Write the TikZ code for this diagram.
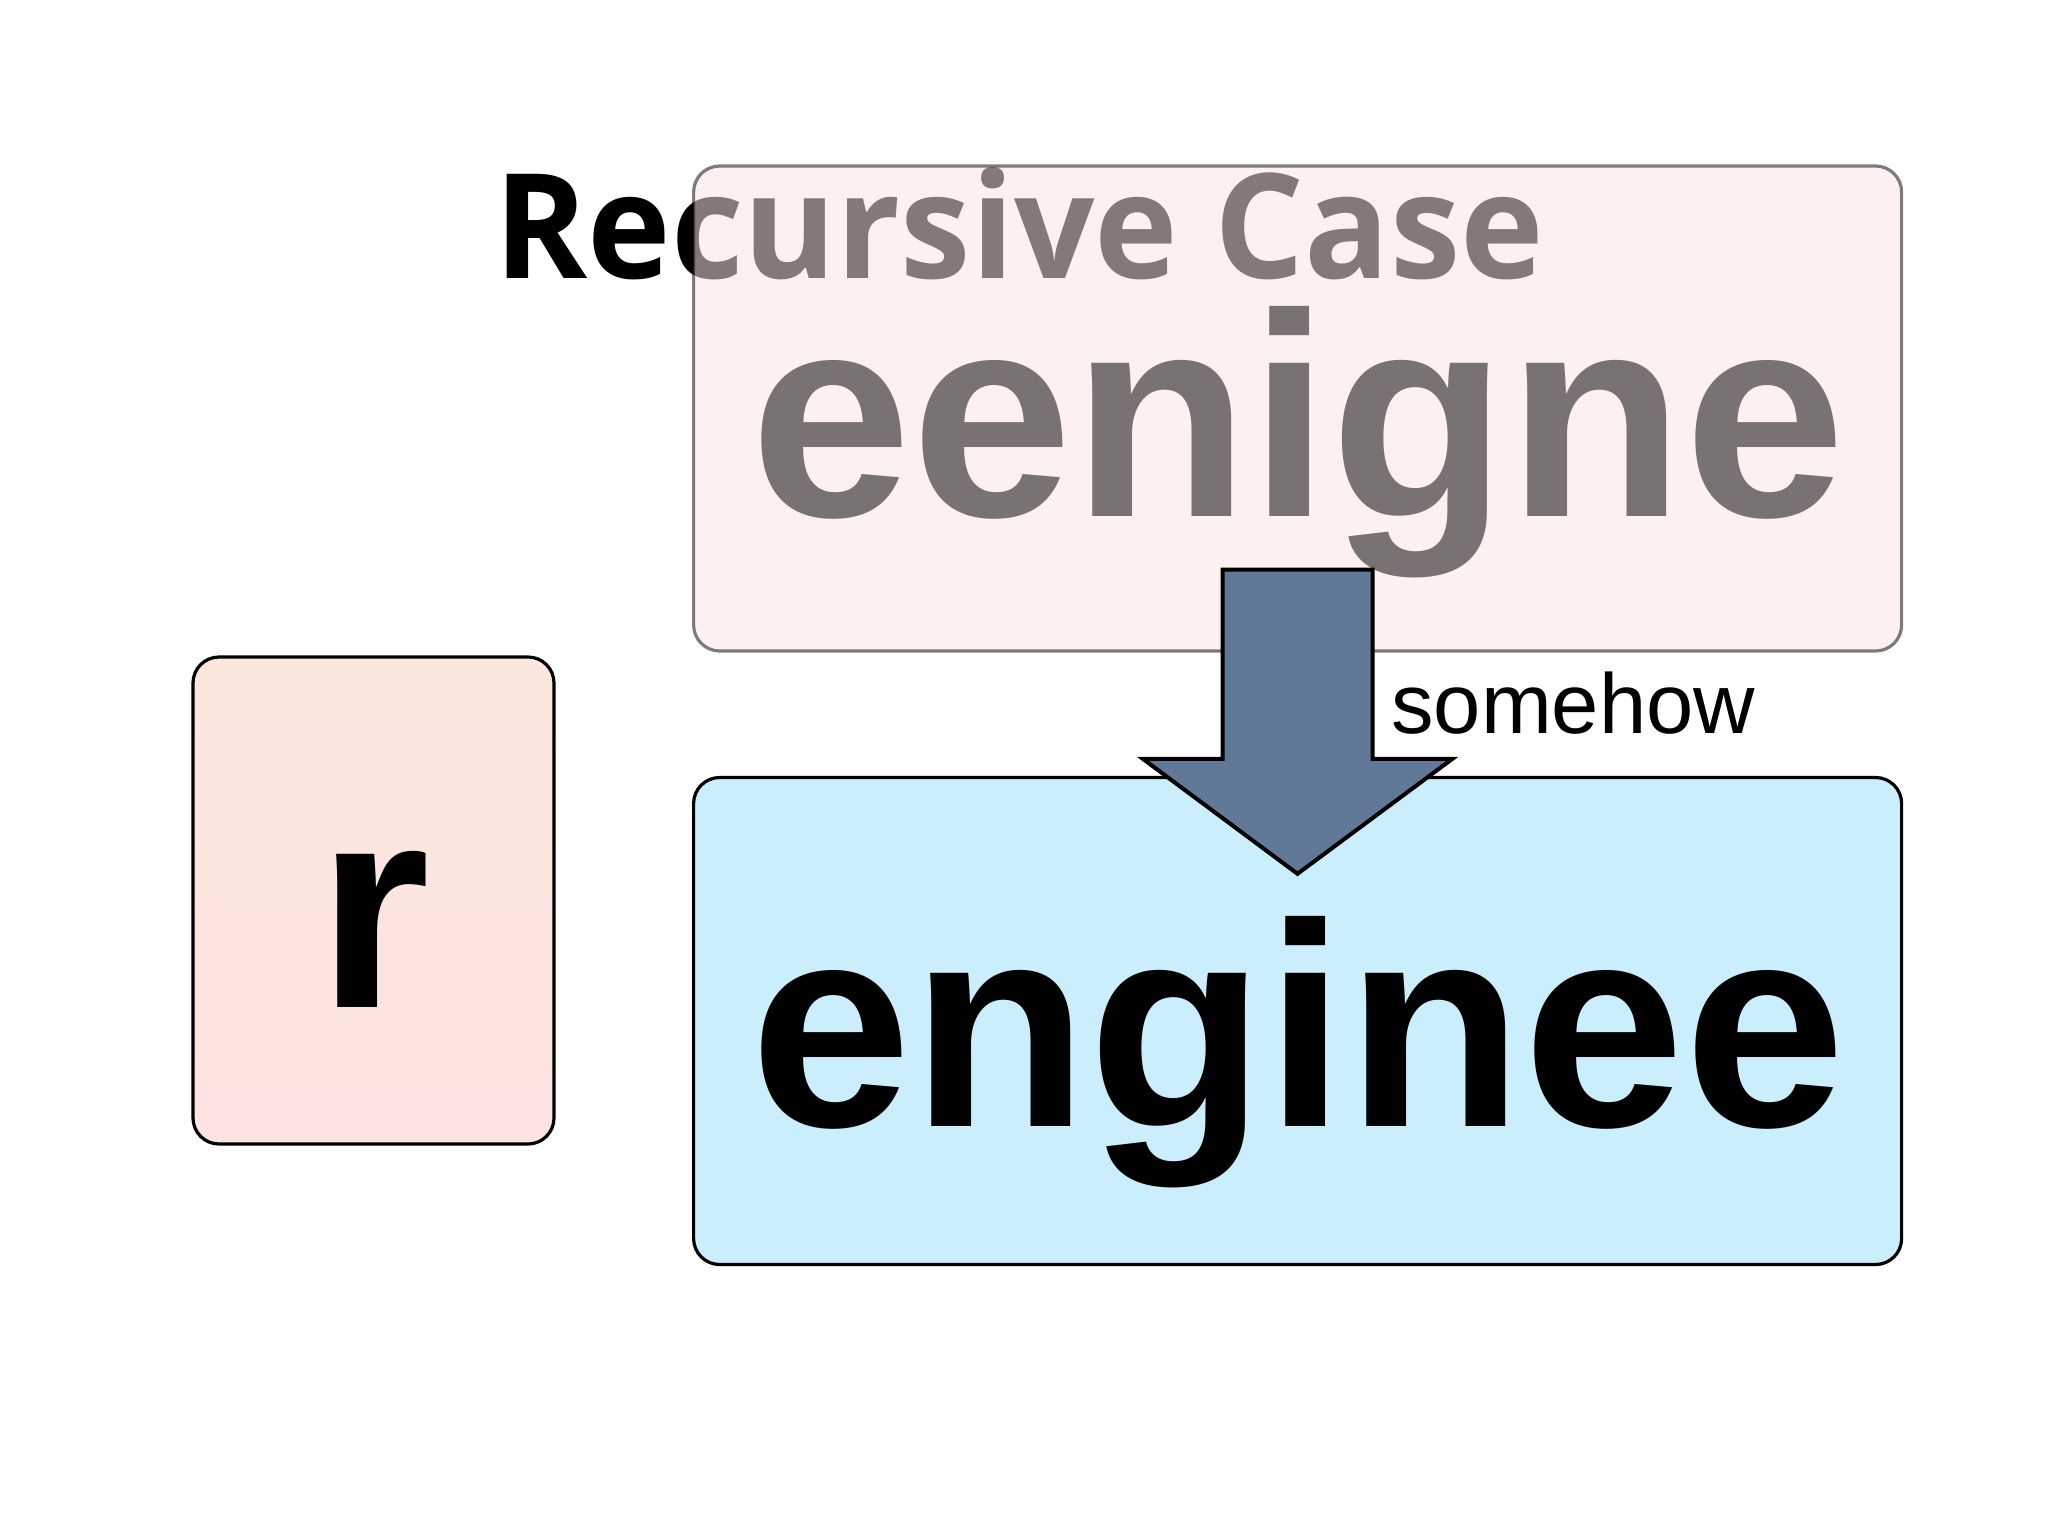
\documentclass[tikz,border=0pt]{standalone}
\usepackage{fontspec}
\setmainfont{Liberation Sans}
\newfontfamily\titlefont{Open Sans}
\definecolor{toppink}{RGB}{251,230,228}
\definecolor{rpinktop}{RGB}{250,231,222}
\definecolor{rpinkbot}{RGB}{253,228,226}
\definecolor{lightblue}{RGB}{202,238,252}
\definecolor{arrowblue}{RGB}{97,121,151}
\tikzset{
  card/.style={rounded corners=13pt, inner sep=0pt, outer sep=0pt, line width=1.6pt, draw=black},
  bigword/.style={anchor=base, inner sep=0pt, font=\bfseries\fontsize{145}{150}\selectfont},
  blockarrow/.style={fill=arrowblue, draw=black, line width=2pt, line join=miter},
}
\begin{document}
\begin{tikzpicture}[x=0.5pt,y=-0.5pt]
\useasboundingbox (0,0) rectangle (2048,1536);
\fill[white] (0,0) rectangle (2048,1536);
% title (under the translucent box)
\node[anchor=base west, inner sep=0pt, xscale=0.968, font=\titlefont\bfseries\fontsize{73}{80}\selectfont] (title) at (494,278) {Recursive Case};
% top translucent box
\node[card, draw opacity=0.5, fill=toppink, fill opacity=0.53,
      minimum width=604pt, minimum height=242.5pt] (topbox) at (1297.6,408.5) {};
\node[bigword, text opacity=0.52] (eenigne) at (1298,516) {eenigne};
% bottom box
\node[card, fill=lightblue, minimum width=604pt, minimum height=243.5pt] (botbox) at (1297.6,1021) {};
\node[bigword] (enginee) at (1298,1126) {enginee};
% r box
\node[card, top color=rpinktop, bottom color=rpinkbot, minimum width=180.5pt, minimum height=243.5pt] (rbox) at (373.5,900.5) {};
\node[bigword] (r) at (374,1007) {r};
% block arrow
\draw[blockarrow] (1222.5,569.5) -- (1372.7,569.5) -- (1372.7,758.8) -- (1452.4,758.8)
   -- (1297.5,873.8) -- (1142.8,758.8) -- (1222.5,758.8) -- cycle;
\node[anchor=base west, inner sep=0pt, font=\fontsize{42.5}{46}\selectfont] (somehow) at (1391,733) {somehow};
\end{tikzpicture}
\end{document}
